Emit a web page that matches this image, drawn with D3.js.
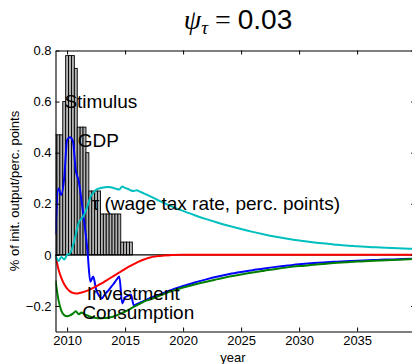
<!DOCTYPE html>
<html>
<head>
<meta charset="utf-8">
<script src="https://cdn.jsdelivr.net/npm/d3@7"></script>
<style>
  html, body { margin: 0; padding: 0; background: #ffffff; }
  svg { display: block; }
  text { font-family: "Liberation Sans", Arial, Helvetica, sans-serif; }
</style>
</head>
<body>
<svg id="chart" width="412" height="364"></svg>
<script>
// Quarterly stimulus (bars), starting 2009Q1
const stimulusStart = 2009;
const stimulus = [
  0.47, 0.47, 0.47, 0.60,
  0.78, 0.78, 0.78, 0.73,
  0.50, 0.50, 0.50, 0.40,
  0.25, 0.25, 0.25, 0.25,
  0.16, 0.16, 0.16, 0.16,
  0.16, 0.16, 0.16, 0.05,
  0.05, 0.05, 0.05
];

// Time grid for the response lines: quarterly to 2016, yearly afterwards
const years = [
  2009, 2009.25, 2009.5, 2009.75,
  2010, 2010.25, 2010.5, 2010.75,
  2011, 2011.25, 2011.5, 2011.75,
  2012, 2012.25, 2012.5, 2012.75,
  2013, 2013.25, 2013.5, 2013.75,
  2014, 2014.25, 2014.5, 2014.75,
  2015, 2015.25, 2015.5, 2015.75,
  2016, 2016.25, 2016.5, 2016.75,
  2017, 2018, 2019, 2020, 2021, 2022, 2023, 2024, 2025, 2026, 2027, 2028,
  2029, 2030, 2031, 2032, 2033, 2034, 2035, 2036, 2037, 2038, 2039, 2040
];

const gdp = [
  0.08, 0.26, 0.235, 0.30,
  0.45, 0.46, 0.445, 0.33,
  0.29, 0.21, 0.12, 0.02,
  -0.105, -0.085, -0.135, -0.16,
  -0.17, -0.155, -0.142, -0.128,
  -0.114, -0.098, -0.085, -0.19,
  -0.166, -0.16, -0.155, -0.198,
  -0.193, -0.188, -0.183, -0.178,
  -0.172, -0.155, -0.137, -0.122, -0.108, -0.096, -0.085, -0.075, -0.067, -0.06, -0.053, -0.047,
  -0.042, -0.037, -0.033, -0.03, -0.027, -0.025, -0.023, -0.021, -0.019, -0.018, -0.016, -0.015
];

const consumption = [
  -0.10, -0.175, -0.218, -0.236,
  -0.240, -0.237, -0.230, -0.221,
  -0.232, -0.226, -0.233, -0.237,
  -0.242, -0.245, -0.247, -0.248,
  -0.248, -0.247, -0.246, -0.244,
  -0.241, -0.237, -0.232, -0.227,
  -0.222, -0.216, -0.210, -0.204,
  -0.198, -0.192, -0.186, -0.180,
  -0.177, -0.159, -0.142, -0.128, -0.116, -0.105, -0.095, -0.085, -0.077, -0.069, -0.062, -0.055,
  -0.049, -0.044, -0.040, -0.036, -0.032, -0.029, -0.026, -0.024, -0.022, -0.020, -0.018, -0.016
];

const investment = [
  0, -0.055, -0.09, -0.115,
  -0.132, -0.143, -0.149, -0.151,
  -0.150, -0.147, -0.144, -0.140,
  -0.135, -0.129, -0.123, -0.117,
  -0.111, -0.104, -0.097, -0.090,
  -0.083, -0.076, -0.069, -0.062,
  -0.055, -0.048, -0.042, -0.036,
  -0.030, -0.025, -0.020, -0.016,
  -0.012, -0.004, -0.001, 0, 0, 0, 0, 0, 0, 0, 0, 0,
  0, 0, 0, 0, 0, 0, 0, 0, 0, 0, 0, 0
];

const wageTax = [
  0, -0.024, -0.008, -0.018,
  0.0, 0.006, 0.035, 0.08,
  0.125, 0.143, 0.16, 0.19,
  0.225, 0.243, 0.255, 0.26,
  0.263, 0.265, 0.266, 0.265,
  0.262, 0.258, 0.256, 0.268,
  0.262, 0.258, 0.252, 0.25,
  0.253, 0.248, 0.243, 0.238,
  0.233, 0.21, 0.19, 0.172, 0.155, 0.14, 0.126, 0.113, 0.101, 0.09, 0.08, 0.071,
  0.063, 0.056, 0.05, 0.045, 0.041, 0.037, 0.034, 0.031, 0.029, 0.027, 0.025, 0.023
];

const xTicks = [2010, 2015, 2020, 2025, 2030, 2035];
const yTicks = [-0.2, 0, 0.2, 0.4, 0.6, 0.8];
const yTickLabels = ["\u22120.2", "0", "0.2", "0.4", "0.6", "0.8"];

const svg = d3.select("#chart");
const plotLeft = 55.5, plotRight = 415.1, plotTop = 50.5, plotBottom = 331.5;

const x = d3.scaleLinear().domain([2009, 2040]).range([plotLeft, plotRight]);
const y = d3.scaleLinear().domain([-0.3, 0.8]).range([plotBottom, plotTop]);

svg.append("defs").append("clipPath").attr("id", "plotclip")
  .append("rect")
  .attr("x", plotLeft).attr("y", plotTop)
  .attr("width", plotRight - plotLeft).attr("height", plotBottom - plotTop);

const plot = svg.append("g").attr("clip-path", "url(#plotclip)");

// Stimulus bars, one per quarter, centred on the quarter date
const barW = 0.25;
plot.append("g").selectAll("rect")
  .data(stimulus)
  .join("rect")
  .attr("x", (d, i) => x(stimulusStart + i * barW - barW / 2))
  .attr("width", x(stimulusStart + barW) - x(stimulusStart))
  .attr("y", d => y(d))
  .attr("height", d => y(0) - y(d))
  .attr("fill", "#b3b3b3")
  .attr("stroke", "#000")
  .attr("stroke-width", 0.9);

// Bar baseline
plot.append("line")
  .attr("x1", plotLeft).attr("x2", plotRight)
  .attr("y1", y(0)).attr("y2", y(0))
  .attr("stroke", "#000").attr("stroke-width", 1.2);

const line = d3.line()
  .x((d, i) => x(years[i]))
  .y(d => y(d))
  .curve(d3.curveMonotoneX);

const series = [
  { values: gdp, color: "#0000ff" },
  { values: consumption, color: "#008000" },
  { values: investment, color: "#ff0000" },
  { values: wageTax, color: "#00bfbf" }
];

plot.selectAll("path.series")
  .data(series)
  .join("path")
  .attr("class", "series")
  .attr("d", s => line(s.values))
  .attr("fill", "none")
  .attr("stroke", s => s.color)
  .attr("stroke-width", 2)
  .attr("stroke-linejoin", "round");

// Axes box with inward ticks on all four sides
const tick = 4;
const axB = svg.append("g").attr("transform", `translate(0,${plotBottom})`)
  .call(d3.axisBottom(x).tickValues(xTicks).tickFormat(d3.format("d"))
    .tickSizeInner(-tick).tickSizeOuter(0).tickPadding(4));
const axT = svg.append("g").attr("transform", `translate(0,${plotTop})`)
  .call(d3.axisTop(x).tickValues(xTicks).tickFormat("")
    .tickSizeInner(-tick).tickSizeOuter(0));
const axL = svg.append("g").attr("transform", `translate(${plotLeft},0)`)
  .call(d3.axisLeft(y).tickValues(yTicks).tickFormat((d, i) => yTickLabels[i])
    .tickSizeInner(-tick).tickSizeOuter(0).tickPadding(4));
const axR = svg.append("g").attr("transform", `translate(${plotRight},0)`)
  .call(d3.axisRight(y).tickValues(yTicks).tickFormat("")
    .tickSizeInner(-tick).tickSizeOuter(0));

[axB, axT, axL, axR].forEach(g => {
  g.selectAll(".domain").attr("stroke", "#000").attr("stroke-width", 1.1);
  g.selectAll(".tick line").attr("stroke", "#000").attr("stroke-width", 1);
  g.selectAll(".tick text")
    .attr("fill", "#000")
    .style("font-family", "'Liberation Sans', Arial, Helvetica, sans-serif")
    .style("font-size", "13px");
});
axB.selectAll(".tick text").attr("dy", "0.75em");

// Series labels, placed in data coordinates
const labels = [
  { text: "Stimulus", t: 2009.77, v: 0.576 },
  { text: "GDP", t: 2010.92, v: 0.424 },
  { text: "\u03c4 (wage tax rate, perc. points)", t: 2012.12, v: 0.176 },
  { text: "Investment", t: 2011.7, v: -0.176 },
  { text: "Consumption", t: 2011.31, v: -0.251 }
];
svg.append("g").selectAll("text")
  .data(labels)
  .join("text")
  .attr("x", d => x(d.t))
  .attr("y", d => y(d.v))
  .attr("fill", "#000")
  .style("font-size", "19px")
  .text(d => d.text);

// Axis titles
svg.append("text")
  .attr("x", 233)
  .attr("y", 362)
  .attr("text-anchor", "middle")
  .style("font-size", "13px")
  .text("year");

svg.append("text")
  .attr("transform", `translate(19,${(plotTop + plotBottom) / 2}) rotate(-90)`)
  .attr("text-anchor", "middle")
  .style("font-size", "13px")
  .text("% of init. output/perc. points");

// Title: psi_tau = 0.03
const title = svg.append("text")
  .attr("x", 238)
  .attr("y", 29)
  .attr("text-anchor", "middle")
  .style("font-size", "28px");
title.append("tspan")
  .style("font-family", "'Liberation Serif', 'DejaVu Serif', serif")
  .style("font-style", "italic")
  .text("\u03c8");
title.append("tspan")
  .style("font-family", "'Liberation Serif', 'DejaVu Serif', serif")
  .style("font-style", "italic")
  .style("font-size", "19px")
  .attr("dy", 5)
  .text("\u03c4");
title.append("tspan")
  .style("font-family", "'Liberation Serif', 'DejaVu Serif', serif")
  .attr("dy", -5)
  .text(" = ");
title.append("tspan")
  .style("font-family", "'Liberation Sans', Arial, sans-serif")
  .text("0.03");
</script>
</body>
</html>
